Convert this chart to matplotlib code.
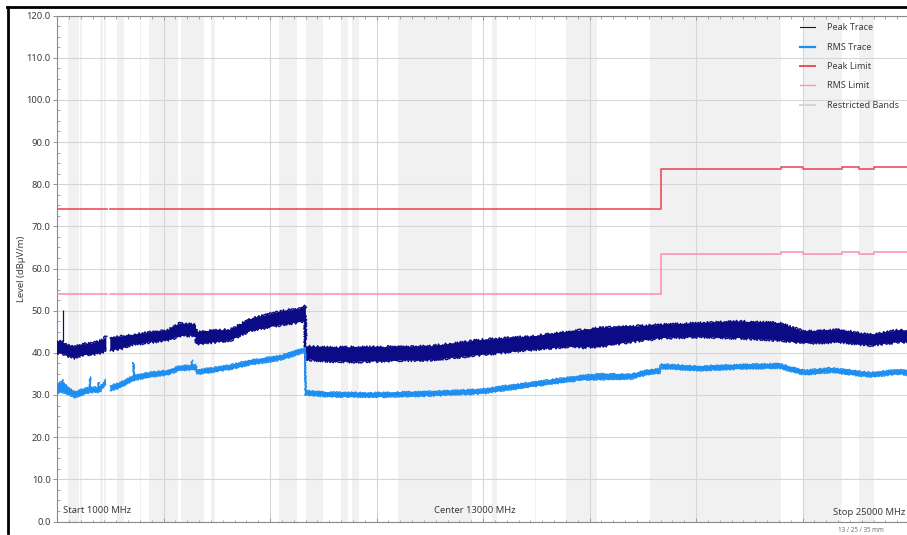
import numpy as np
import matplotlib
matplotlib.use("Agg")
import matplotlib.pyplot as plt
from matplotlib.lines import Line2D
from matplotlib.ticker import MultipleLocator

plt.rcParams['font.family'] = ['Noto Sans', 'DejaVu Sans']

# ---- data (MHz / dBuV/m) ----
nan = np.nan

# Peak trace envelope (lower / upper edge of the noise band)
peak_freq = [1000, 1150, 1300, 1500, 1700, 2000, 2300, 2390,
             2400, 2483.5,
             2500, 2800, 3150, 3600, 4100, 4470, 4900, 4930, 5030, 5900, 6450,
             7300, 7850, 7990, 8000, 8700, 9500, 10700, 11500, 12900, 14300,
             15450, 15750, 16300, 17150, 18000, 19100, 20250, 21350, 22050,
             23050, 23900, 24750, 25000]
peak_lo = [40.0, 39.8, 39.3, 38.8, 39.5, 39.6, 40.2, 41.0,
           nan, nan,
           40.5, 41.0, 42.0, 42.5, 43.0, 44.0, 44.2, 42.2, 42.2, 43.0, 45.3,
           46.6, 47.3, 47.8, 38.5, 38.0, 37.9, 38.2, 38.3, 39.5, 40.7,
           41.5, 41.3, 41.5, 42.6, 43.5, 43.8, 43.5, 43.0, 42.3,
           42.6, 41.8, 42.6, 42.5]
peak_hi = [42.8, 42.5, 41.8, 41.4, 42.0, 42.2, 43.0, 44.0,
           nan, nan,
           43.5, 43.8, 44.2, 44.8, 45.2, 47.0, 46.6, 44.6, 45.0, 45.5, 48.0,
           49.8, 50.4, 51.0, 41.5, 41.2, 41.3, 41.4, 41.5, 43.0, 43.8,
           45.0, 45.3, 45.9, 46.2, 46.6, 47.0, 47.4, 47.0, 45.0,
           45.4, 44.2, 45.4, 45.2]
# Isolated peak-trace spike: frequency, base and top level
peak_spike_freq = [1170]
peak_spike_base = [42.5]
peak_spike_top = [50.2]

# RMS trace envelope
rms_freq = [1000, 1100, 1150, 1160, 1170, 1350, 1500, 1700, 1925, 1930, 1935,
            2165, 2170, 2175, 2200, 2380,
            2400, 2483.5,
            2500, 2780, 3140, 3155, 3160, 3165, 3600, 4100, 4470, 4795, 4800,
            4805, 4910, 4950, 5030, 5880, 6440, 7280, 7850, 7990, 8000, 8700,
            10000, 11500, 12900, 14300, 15700, 16300, 17150, 17700, 17990,
            18000, 19100, 20250, 21350, 22050, 22800, 23900, 24750, 25000]
rms_lo = [30.5, 30.6, 30.6, 30.8, 30.6, 30.0, 29.4, 30.0, 30.6, 30.8, 30.6,
          30.7, 30.8, 30.7, 30.7, 32.5,
          nan, nan,
          31.0, 31.8, 33.4, 33.5, 33.6, 33.5, 34.3, 34.8, 35.9, 36.0, 36.1,
          36.0, 36.2, 35.0, 35.0, 36.1, 37.2, 38.3, 39.8, 40.3, 30.0, 29.6,
          29.5, 29.8, 30.3, 31.9, 33.5, 33.7, 33.8, 35.0, 35.2,
          36.3, 35.8, 36.2, 36.4, 34.8, 35.4, 34.3, 35.0, 34.6]
rms_hi = [32.6, 33.0, 33.0, 33.6, 33.0, 31.5, 30.7, 31.3, 31.8, 34.3, 31.8,
          31.8, 33.0, 31.8, 31.8, 33.6,
          nan, nan,
          32.2, 32.9, 34.5, 34.6, 37.7, 34.6, 35.3, 35.8, 36.9, 37.0, 38.3,
          37.0, 37.1, 36.0, 36.0, 37.1, 38.2, 39.3, 40.8, 41.2, 31.0, 30.6,
          30.5, 30.8, 31.3, 32.9, 34.5, 35.0, 34.9, 36.0, 36.2,
          37.3, 36.8, 37.2, 37.4, 35.8, 36.4, 35.3, 36.0, 35.6]

# Limit lines (step-post at these edges)
limit_edges = [1000, 2400, 2483.5, 18000, 21400, 22010, 23120, 23600, 24000, 25000]
peak_limit = [74, nan, 74, 83.5, 84, 83.5, 84, 83.5, 84, 84]
rms_limit = [54, nan, 54, 63.5, 64, 63.5, 64, 63.5, 64, 64]

# Restricted bands (MHz)
restricted_bands = [
    (1300, 1427), (1435, 1626.5), (1645.5, 1646.5), (1660, 1710),
    (1718.8, 1722.2), (2200, 2300), (2310, 2390), (2483.5, 2500),
    (2690, 2900), (3260, 3267), (3332, 3339), (3345.8, 3358),
    (3600, 4400), (4500, 5150), (5350, 5460), (7250, 7750),
    (8025, 8500), (9000, 9200), (9300, 9500), (10600, 12700),
    (13250, 13400), (14470, 14500), (15350, 16200), (17700, 21400),
    (22010, 23120), (23600, 24000),
]

y_ticks = [0, 10, 20, 30, 40, 50, 60, 70, 80, 90, 100, 110, 120]

# ---- colours ----
c_peak = '#0b0b85'
c_rms = '#1e8ff0'
c_plim = '#e9505a'
c_rlim = '#ff92b6'
c_band = '#f1f1f1'
c_text = '#3c3c3c'
c_grid = '#d6d6d6'

W, H = 907, 535
fig = plt.figure(figsize=(W / 100, H / 100), dpi=100)
fig.patch.set_facecolor('white')
ax = fig.add_axes([57 / W, (H - 521.5) / H, 852 / W, 506 / H])

for lo, hi in restricted_bands:
    ax.axvspan(lo, hi, color=c_band, lw=0, zorder=0)

ax.set_xlim(1000, 25000)
ax.set_ylim(0, 120)
ax.set_yticks(y_ticks)
ax.set_yticklabels([f"{v:.1f}" for v in y_ticks])
ax.yaxis.set_minor_locator(MultipleLocator(2.5))
ax.set_xticks(np.arange(4000, 25000, 3000))
ax.set_xticklabels([])
ax.xaxis.set_minor_locator(MultipleLocator(1000 / 3))
ax.grid(True, which='major', color=c_grid, lw=0.8, zorder=1)
ax.set_axisbelow(True)

ax.tick_params(axis='y', which='major', labelsize=6.8, labelcolor=c_text,
               color='#808080', length=3, width=0.6, direction='out', pad=1.5)
ax.tick_params(axis='y', which='minor', color='#808080', length=2, width=0.5,
               direction='in')
ax.tick_params(axis='x', which='both', top=True, bottom=True, direction='in',
               color='#808080', width=0.5)
ax.tick_params(axis='x', which='major', length=3)
ax.tick_params(axis='x', which='minor', length=1.8)
for side in ['left', 'bottom', 'top']:
    ax.spines[side].set_color('#8a8a8a')
    ax.spines[side].set_linewidth(0.8)
ax.spines['right'].set_visible(False)

# Limits
ax.plot(limit_edges, peak_limit, drawstyle='steps-post', color=c_plim, lw=1.2,
        zorder=3)
ax.plot(limit_edges, rms_limit, drawstyle='steps-post', color=c_rlim, lw=1.2,
        zorder=3)

# Traces: filled noise band with ragged edges
pf = np.array(peak_freq, float)
ax.fill_between(pf, peak_lo, peak_hi, facecolor=c_peak, lw=0, zorder=4)
for edge in (peak_lo, peak_hi):
    ln, = ax.plot(pf, edge, color=c_peak, lw=1.0, zorder=4)
    ln.set_sketch_params(1.4, 1.6, 3.0)
ax.plot([7990, 8000], [51.0, 38.5], color=c_peak, lw=1.0, zorder=4)
ax.vlines(peak_spike_freq, peak_spike_base, peak_spike_top, color=c_peak,
          lw=0.9, zorder=4)

rf = np.array(rms_freq, float)
ax.fill_between(rf, rms_lo, rms_hi, facecolor=c_rms, lw=0, zorder=5)
for edge in (rms_lo, rms_hi):
    ln, = ax.plot(rf, edge, color=c_rms, lw=0.9, zorder=5)
    ln.set_sketch_params(0.8, 1.6, 3.0)
ax.plot([7990, 8000], [41.2, 30.0], color=c_rms, lw=1.0, zorder=5)

ax.set_ylabel('Level (dBµV/m)', fontsize=6.8, color=c_text, labelpad=0)

# Frequency annotations
ax.text(0.007, 0.012, 'Start 1000 MHz', transform=ax.transAxes, fontsize=6.8,
        color=c_text, ha='left', va='bottom')
ax.text(0.49, 0.012, 'Center 13000 MHz', transform=ax.transAxes, fontsize=6.8,
        color=c_text, ha='center', va='bottom')
fig.text(905 / W, 1 - 517 / H, 'Stop 25000 MHz', fontsize=6.8, color=c_text,
         ha='right', va='bottom')
fig.text(838 / W, 1 - 531 / H, '13 / 25 / 35 mm', fontsize=4.5, color='#707070',
         ha='left', va='center')

# Legend
handles = [
    Line2D([], [], color=c_peak, lw=0.8),
    Line2D([], [], color=c_rms, lw=1.6),
    Line2D([], [], color=c_plim, lw=1.4),
    Line2D([], [], color=c_rlim, lw=1.0),
    Line2D([], [], color='#d6d6d6', lw=1.4),
]
labels = ['Peak Trace', 'RMS Trace', 'Peak Limit', 'RMS Limit', 'Restricted Bands']
fig.legend(handles, labels, loc='upper left',
           bbox_to_anchor=(794 / W, 1 - 17 / H), frameon=False, fontsize=6.5,
           handlelength=1.6, handletextpad=1.4, labelspacing=1.15,
           labelcolor=c_text, borderpad=0.2)

# Outer window frame
fig.add_artist(Line2D([8 / W, 8 / W], [1 - 533 / H, 1 - 7 / H],
                      transform=fig.transFigure, color='black', lw=2.0))
fig.add_artist(Line2D([7 / W, 1.0], [1 - 7 / H, 1 - 7 / H],
                      transform=fig.transFigure, color='black', lw=2.0))

fig.savefig('out.png', dpi=100)
